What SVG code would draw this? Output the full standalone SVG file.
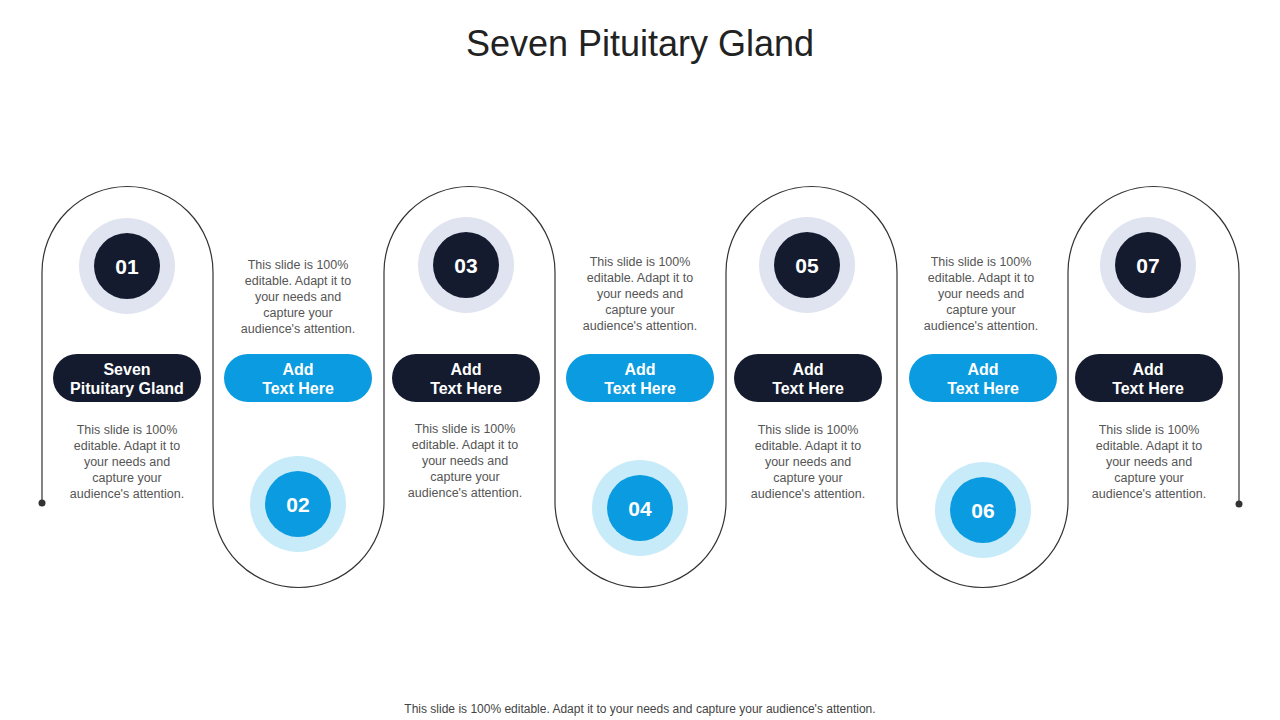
<svg xmlns="http://www.w3.org/2000/svg" width="1280" height="720" viewBox="0 0 1280 720">
<style>
.t{font-family:"Liberation Sans",Arial,sans-serif;}
.title{font-size:36px;fill:#222;text-anchor:middle}
.d{font-size:12.5px;fill:#555;text-anchor:middle}
.p{font-size:16px;font-weight:bold;fill:#fff;text-anchor:middle}
.n{font-size:21px;font-weight:bold;fill:#fff;text-anchor:middle}
.dk{fill:#141B2E}.bl{fill:#0A9BE0}.od{fill:#E0E4F0}.ob{fill:#C8EBFA}
.foot{font-size:12px;fill:#444;text-anchor:middle}
</style>
<rect width="1280" height="720" fill="#fff"/>
<text class="t title" x="640" y="56">Seven Pituitary Gland</text>
<g id="connectors" fill="none" stroke="#333" stroke-width="1.2">
<path d="M42,503 V272 A85.5,85.5 0 0 1 213,272 V502 A85.5,85.5 0 0 0 384,502 V272 A85.5,85.5 0 0 1 555,272 V502 A85.5,85.5 0 0 0 726,502 V272 A85.5,85.5 0 0 1 897,272 V502 A85.5,85.5 0 0 0 1068,502 V272 A85.5,85.5 0 0 1 1239,272 V504"/>
<circle cx="42" cy="503" r="3.5" fill="#333" stroke="none"/>
<circle cx="1239" cy="504" r="3.5" fill="#333" stroke="none"/>
</g>
<g id="n1"><circle class="od" cx="127" cy="266" r="48"/><circle class="dk" cx="127" cy="266" r="33"/><text class="t n" x="127" y="274">01</text>
<rect class="dk" x="53" y="354" width="148" height="48" rx="24"/><text class="t p" x="127" y="375">Seven</text><text class="t p" x="127" y="394">Pituitary Gland</text>
<text class="t d" y="434"><tspan x="127">This slide is 100%</tspan><tspan x="127" dy="16">editable. Adapt it to</tspan><tspan x="127" dy="16">your needs and</tspan><tspan x="127" dy="16">capture your</tspan><tspan x="127" dy="16">audience's attention.</tspan></text></g>
<g id="n2"><circle class="ob" cx="298" cy="504" r="48"/><circle class="bl" cx="298" cy="504" r="33"/><text class="t n" x="298" y="512">02</text>
<rect class="bl" x="224" y="354" width="148" height="48" rx="24"/><text class="t p" x="298" y="375">Add</text><text class="t p" x="298" y="394">Text Here</text>
<text class="t d" y="269"><tspan x="298">This slide is 100%</tspan><tspan x="298" dy="16">editable. Adapt it to</tspan><tspan x="298" dy="16">your needs and</tspan><tspan x="298" dy="16">capture your</tspan><tspan x="298" dy="16">audience's attention.</tspan></text></g>
<g id="n3"><circle class="od" cx="466" cy="265" r="48"/><circle class="dk" cx="466" cy="265" r="33"/><text class="t n" x="466" y="273">03</text>
<rect class="dk" x="392" y="354" width="148" height="48" rx="24"/><text class="t p" x="466" y="375">Add</text><text class="t p" x="466" y="394">Text Here</text>
<text class="t d" y="433"><tspan x="465">This slide is 100%</tspan><tspan x="465" dy="16">editable. Adapt it to</tspan><tspan x="465" dy="16">your needs and</tspan><tspan x="465" dy="16">capture your</tspan><tspan x="465" dy="16">audience's attention.</tspan></text></g>
<g id="n4"><circle class="ob" cx="640" cy="508" r="48"/><circle class="bl" cx="640" cy="508" r="33"/><text class="t n" x="640" y="516">04</text>
<rect class="bl" x="566" y="354" width="148" height="48" rx="24"/><text class="t p" x="640" y="375">Add</text><text class="t p" x="640" y="394">Text Here</text>
<text class="t d" y="266"><tspan x="640">This slide is 100%</tspan><tspan x="640" dy="16">editable. Adapt it to</tspan><tspan x="640" dy="16">your needs and</tspan><tspan x="640" dy="16">capture your</tspan><tspan x="640" dy="16">audience's attention.</tspan></text></g>
<g id="n5"><circle class="od" cx="807" cy="265" r="48"/><circle class="dk" cx="807" cy="265" r="33"/><text class="t n" x="807" y="273">05</text>
<rect class="dk" x="734" y="354" width="148" height="48" rx="24"/><text class="t p" x="808" y="375">Add</text><text class="t p" x="808" y="394">Text Here</text>
<text class="t d" y="434"><tspan x="808">This slide is 100%</tspan><tspan x="808" dy="16">editable. Adapt it to</tspan><tspan x="808" dy="16">your needs and</tspan><tspan x="808" dy="16">capture your</tspan><tspan x="808" dy="16">audience's attention.</tspan></text></g>
<g id="n6"><circle class="ob" cx="983" cy="510" r="48"/><circle class="bl" cx="983" cy="510" r="33"/><text class="t n" x="983" y="518">06</text>
<rect class="bl" x="909" y="354" width="148" height="48" rx="24"/><text class="t p" x="983" y="375">Add</text><text class="t p" x="983" y="394">Text Here</text>
<text class="t d" y="266"><tspan x="981">This slide is 100%</tspan><tspan x="981" dy="16">editable. Adapt it to</tspan><tspan x="981" dy="16">your needs and</tspan><tspan x="981" dy="16">capture your</tspan><tspan x="981" dy="16">audience's attention.</tspan></text></g>
<g id="n7"><circle class="od" cx="1148" cy="265" r="48"/><circle class="dk" cx="1148" cy="265" r="33"/><text class="t n" x="1148" y="273">07</text>
<rect class="dk" x="1075" y="354" width="148" height="48" rx="24"/><text class="t p" x="1148" y="375">Add</text><text class="t p" x="1148" y="394">Text Here</text>
<text class="t d" y="434"><tspan x="1149">This slide is 100%</tspan><tspan x="1149" dy="16">editable. Adapt it to</tspan><tspan x="1149" dy="16">your needs and</tspan><tspan x="1149" dy="16">capture your</tspan><tspan x="1149" dy="16">audience's attention.</tspan></text></g>
<text class="t foot" x="640" y="713">This slide is 100% editable. Adapt it to your needs and capture your audience's attention.</text>
</svg>
